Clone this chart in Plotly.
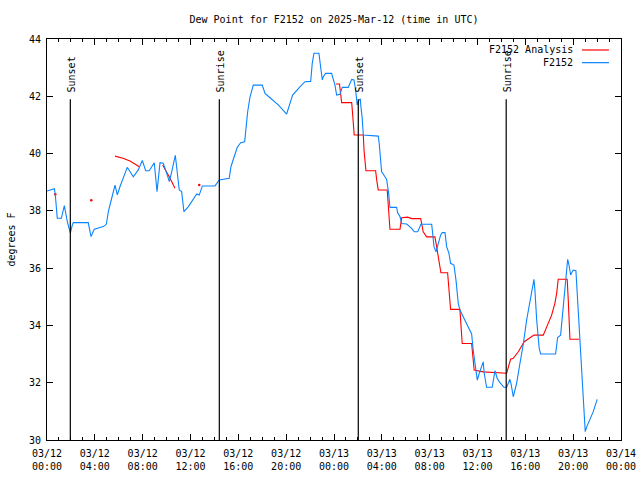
import pandas as pd
import plotly.graph_objects as go

START = pd.Timestamp("2025-03-12 00:00")

# F2152 observations: hours since 03/12 00:00 UTC, dew point (F)
obs_hours = [0.0, 0.61, 0.69, 0.86, 1.20, 1.45, 1.70, 1.86, 1.95, 2.12, 2.20, 3.45, 3.68, 3.95, 4.29, 4.71,
             4.96, 5.13, 5.41, 5.69, 5.88, 6.10, 6.71, 7.22, 7.63, 7.97, 8.25, 8.55, 8.97, 9.20, 9.45, 9.72,
             10.01, 10.23, 10.43, 10.73, 11.06, 11.26, 11.45, 11.81, 12.52, 12.73, 12.99, 14.05, 14.41, 15.24,
             15.38, 15.72, 15.91, 16.20, 16.53, 16.64, 16.78, 16.97, 17.25, 18.00, 18.23, 18.65, 19.34, 20.04,
             20.54, 21.15, 21.57, 22.05, 22.18, 22.32, 22.74, 22.88, 23.02, 23.10, 23.30, 23.80, 24.08, 24.22,
             24.50, 24.69, 25.19, 25.48, 25.67, 25.81, 25.89, 25.94, 26.09, 26.20, 26.25, 26.36, 26.45, 27.70,
             27.78, 27.90, 27.98, 28.26, 28.40, 28.57, 28.68, 29.24, 29.32, 29.52, 29.66, 30.08, 30.49, 30.71,
             31.00, 31.27, 32.17, 32.25, 32.36, 32.53, 32.72, 32.92, 33.05, 33.28, 33.42, 33.61, 33.75, 34.03,
             34.20, 34.39, 34.53, 34.95, 35.31, 35.51, 35.64, 35.84, 35.98, 36.15, 36.35, 36.48, 36.56, 36.76,
             37.23, 37.32, 37.46, 37.65, 37.88, 38.21, 38.44, 38.71, 38.80, 38.99, 39.27, 39.55, 39.82, 40.11,
             40.38, 40.61, 40.72, 40.80, 40.95, 41.16, 41.28, 42.53, 42.62, 42.70, 42.95, 43.04, 43.17, 43.31,
             43.45, 43.54, 43.65, 43.79, 43.87, 44.01, 44.23, 44.29, 44.42, 44.62, 44.84, 45.01, 45.13, 45.40,
             45.68, 46.01]
obs_dewpt = [38.69, 38.77, 38.58, 37.74, 37.74, 38.18, 37.62, 37.37, 37.22, 37.51, 37.59, 37.59, 37.10, 37.36,
             37.40, 37.45, 37.53, 37.97, 38.44, 38.90, 38.56, 38.84, 39.52, 39.19, 39.43, 39.76, 39.40, 39.40,
             39.68, 38.67, 39.68, 39.66, 39.31, 39.02, 39.37, 39.94, 38.73, 38.67, 37.97, 38.14, 38.59, 38.55,
             38.87, 38.87, 39.08, 39.14, 39.54, 40.01, 40.22, 40.38, 40.41, 40.88, 41.46, 41.96, 42.39, 42.39,
             42.10, 41.95, 41.70, 41.38, 42.04, 42.33, 42.51, 42.52, 43.15, 43.50, 43.50, 43.03, 42.57, 42.68,
             42.80, 42.80, 42.39, 42.04, 42.07, 42.31, 42.31, 42.59, 42.57, 42.22, 41.78, 41.70, 41.87, 41.91,
             41.64, 41.23, 40.65, 40.61, 40.36, 39.89, 39.37, 39.19, 39.10, 38.61, 38.12, 38.12, 37.93, 37.80,
             37.56, 37.54, 37.39, 37.27, 37.27, 37.53, 37.53, 37.22, 36.75, 36.57, 36.87, 37.16, 37.24, 37.24,
             36.75, 36.52, 36.17, 36.11, 35.59, 34.77, 34.54, 34.19, 33.84, 33.70, 33.14, 32.44, 32.09, 32.33,
             32.62, 32.73, 32.33, 31.84, 31.84, 32.03, 32.42, 32.15, 32.00, 31.84, 31.84, 32.12, 31.98, 31.51,
             31.98, 32.68, 33.32, 34.19, 34.89, 35.47, 35.61, 35.24, 34.19, 33.20, 33.00, 33.00, 33.26, 33.58,
             33.66, 34.07, 34.65, 35.47, 36.17, 36.31, 36.11, 35.76, 35.84, 35.93, 35.91, 35.49, 34.60, 33.14,
             31.63, 30.29, 30.46, 30.70, 30.99, 31.42]

# F2152 Analysis: hours since 03/12 00:00 UTC, dew point (F); None = gap
ana_hours = [0.69, None, 3.70, None, 5.69, 6.35, 6.94, 7.36, 7.72, None, 9.67, 10.03, 10.28, 10.70, None,
             12.73, None, 24.16, 24.46, 24.64, 25.48, 25.53, 25.61, 25.69, 26.45, 26.51, 26.67, 27.48, 27.57,
             27.70, 28.45, 28.54, 28.68, 29.52, 29.66, 30.16, 30.49, 31.25, 31.46, 31.75, 32.44, 32.58, 32.72,
             32.94, 33.50, 33.64, 33.75, 34.53, 34.62, 34.72, 35.51, 35.64, 35.72, 36.48, 37.46, 38.44, 38.63,
             38.77, 38.99, 39.41, 39.91, 40.38, 40.72, 41.50, 41.83, 42.20, 42.47, 42.62, 42.75, 43.50, 43.59,
             43.73, 44.51]
ana_dewpt = [38.58, None, 38.37, None, 39.91, 39.84, 39.74, 39.64, 39.54, None, 39.60, 39.36, 39.15, 38.79,
             None, 38.90, None, 42.43, 42.43, 41.78, 41.78, 41.52, 40.82, 40.65, 40.65, 40.12, 39.40, 39.40,
             39.08, 38.73, 38.73, 38.09, 37.36, 37.36, 37.76, 37.78, 37.73, 37.73, 37.27, 37.09, 37.09, 36.75,
             36.34, 35.84, 35.84, 35.18, 34.56, 34.56, 34.07, 33.37, 33.37, 32.91, 32.44, 32.38, 32.35, 32.33,
             32.62, 32.82, 32.85, 33.08, 33.43, 33.58, 33.66, 33.66, 33.98, 34.36, 34.77, 35.12, 35.61, 35.61,
             34.89, 33.52, 33.52]

sun_hours = [1.95, 14.41, 26.03, 38.40]
sun_labels = ["Sunset", "Sunrise", "Sunset", "Sunrise"]

y_ticks = [30, 32, 34, 36, 38, 40, 42, 44]

RED = "#ff0000"
BLUE = "#0a84ff"
FONT = "DejaVu Sans Mono"
W, H = 640, 480


def to_time(hours):
    return [None if h is None else START + pd.Timedelta(hours=h) for h in hours]


ana_t = to_time(ana_hours)
obs_t = to_time(obs_hours)

# isolated analysis points (no neighbours) drawn as dots
iso_x, iso_y = [], []
for i, (t, v) in enumerate(zip(ana_t, ana_dewpt)):
    if t is None:
        continue
    prev_none = i == 0 or ana_t[i - 1] is None
    next_none = i == len(ana_t) - 1 or ana_t[i + 1] is None
    if prev_none and next_none:
        iso_x.append(t)
        iso_y.append(v)

fig = go.Figure()
fig.add_trace(go.Scatter(x=ana_t, y=ana_dewpt, mode="lines", line=dict(color=RED, width=1.1),
                         connectgaps=False, showlegend=False, hoverinfo="skip"))
fig.add_trace(go.Scatter(x=iso_x, y=iso_y, mode="markers", marker=dict(color=RED, size=2.5),
                         showlegend=False, hoverinfo="skip"))
fig.add_trace(go.Scatter(x=obs_t, y=obs_dewpt, mode="lines", line=dict(color=BLUE, width=1.1),
                         showlegend=False, hoverinfo="skip"))

LINE_TOP = 0.85
for h, lab in zip(sun_hours, sun_labels):
    t = START + pd.Timedelta(hours=h)
    fig.add_shape(type="line", xref="x", yref="paper", x0=t, x1=t, y0=0, y1=LINE_TOP,
                  line=dict(color="black", width=1.2))
    fig.add_annotation(x=t, y=LINE_TOP, xref="x", yref="paper", text=lab, textangle=-90,
                       showarrow=False, xanchor="center", yanchor="bottom", yshift=5, xshift=1,
                       font=dict(family=FONT, size=10, color="black"))

# gnuplot-style key: text on the left, line sample on the right
legend_items = [("F2152 Analysis", RED, 0.9726), ("F2152", BLUE, 0.941)]
for name, col, yy in legend_items:
    fig.add_annotation(x=0.919, y=yy, xref="paper", yref="paper", text=name, showarrow=False,
                       xanchor="right", yanchor="middle", font=dict(family=FONT, size=10, color="black"))
    fig.add_shape(type="line", xref="paper", yref="paper", x0=0.932, x1=0.979, y0=yy, y1=yy,
                  line=dict(color=col, width=1.2))

fig.update_layout(
    width=W, height=H,
    margin=dict(l=47, r=19, t=39, b=40, pad=0, autoexpand=False),
    paper_bgcolor="white", plot_bgcolor="white",
    font=dict(family=FONT, size=10, color="black"),
    title=dict(text="Dew Point for F2152 on 2025-Mar-12 (time in UTC)", x=0.5, xanchor="center",
               xref="paper", y=1 - 19 / H, yanchor="middle", yref="container", automargin=False,
               font=dict(family=FONT, size=10, color="black")),
    showlegend=False,
)
fig.update_xaxes(
    range=[START, START + pd.Timedelta(hours=48)],
    dtick=4 * 3600 * 1000, tick0=START, tickformat="%m/%d<br>%H:%M",
    ticks="inside", ticklen=6, tickcolor="black", tickwidth=1, ticklabelstandoff=4,
    ticklabeloverflow="allow",
    minor=dict(dtick=3600 * 1000, ticks="inside", ticklen=3, tickcolor="black"),
    showline=True, linecolor="black", linewidth=1, mirror="ticks",
    showgrid=False, zeroline=False, automargin=False,
    tickfont=dict(family=FONT, size=10, color="black"),
)
fig.update_yaxes(
    range=[30, 44], tickvals=y_ticks, ticktext=[str(v) for v in y_ticks],
    ticks="inside", ticklen=6, tickcolor="black", tickwidth=1, ticklabelstandoff=3,
    showline=True, linecolor="black", linewidth=1, mirror="ticks",
    showgrid=False, zeroline=False, automargin=False,
    title=dict(text="degrees F", standoff=11, font=dict(family=FONT, size=10, color="black")),
    tickfont=dict(family=FONT, size=10, color="black"),
)

fig.write_html("out.html", config={"displayModeBar": False},
               post_script="document.body.style.margin='0';document.body.style.overflow='hidden';")
